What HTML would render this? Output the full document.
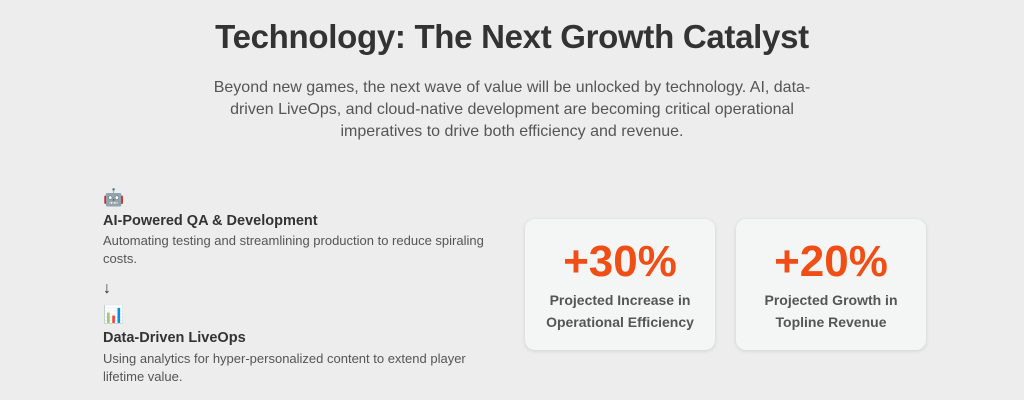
<!DOCTYPE html>
<html><head><meta charset="utf-8"><style>
body{margin:0;width:1024px;height:400px;background:#ededed;font-family:"Liberation Sans",sans-serif;overflow:hidden;position:relative;color:#333}
.abs{position:absolute}
h1{position:absolute;top:18px;left:0;width:1024px;text-align:center;margin:0;font-size:33px;font-weight:bold;color:#333;letter-spacing:-0.3px}
.sub{top:77px;left:192px;width:640px;text-align:center;font-size:16px;line-height:22px;color:#555}
.h{font-size:14.5px;font-weight:bold;color:#333}
.d{font-size:13px;line-height:18px;color:#555;width:390px}
.card{position:absolute;top:219px;width:190px;height:131px;background:#f4f5f5;border-radius:10px;box-shadow:0 1px 4px rgba(0,0,0,0.12);text-align:center}
.num{margin-top:19px;font-size:44px;font-weight:bold;color:#f04e14;line-height:48px}
.lab{margin-top:3px;font-size:14px;font-weight:bold;color:#555;line-height:22px}
</style></head><body>
<h1>Technology: The Next Growth Catalyst</h1>
<div class="abs sub">Beyond new games, the next wave of value will be unlocked by technology. AI, data-driven LiveOps, and cloud-native development are becoming critical operational imperatives to drive both efficiency and revenue.</div>
<div class="abs" style="left:103px;top:188px;font-size:17px">🤖</div>
<div class="abs h" style="left:103px;top:213px">AI-Powered QA &amp; Development</div>
<div class="abs d" style="left:103px;top:232px">Automating testing and streamlining production to reduce spiraling costs.</div>
<div class="abs" style="left:103px;top:280px;font-size:16px">↓</div>
<div class="abs" style="left:103px;top:305px;font-size:17px">📊</div>
<div class="abs h" style="left:103px;top:330px">Data-Driven LiveOps</div>
<div class="abs d" style="left:103px;top:350px">Using analytics for hyper-personalized content to extend player lifetime value.</div>
<div class="card" style="left:525px"><div class="num">+30%</div><div class="lab">Projected Increase in<br>Operational Efficiency</div></div>
<div class="card" style="left:736px"><div class="num">+20%</div><div class="lab">Projected Growth in<br>Topline Revenue</div></div>
</body></html>
